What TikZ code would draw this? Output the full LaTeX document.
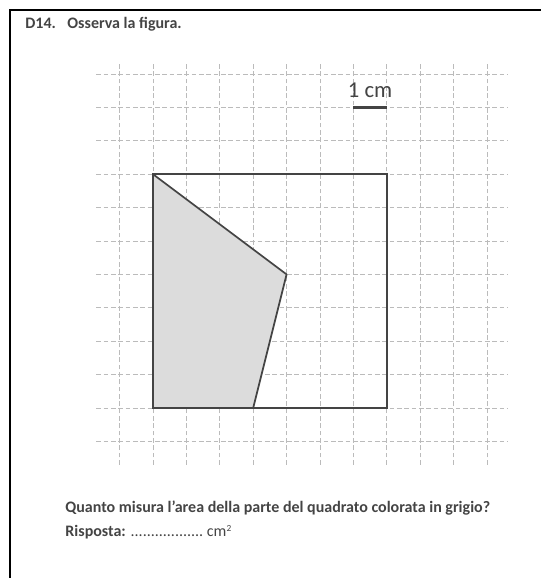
\documentclass[tikz,border=0pt]{standalone}
\usepackage{fontspec}
\setmainfont{Carlito}
\definecolor{ColorShade}{HTML}{DCDCDC}
\definecolor{ColorEdge}{HTML}{444444}
\definecolor{ColorGrid}{HTML}{BBBBBB}
\begin{document}
\begin{tikzpicture}[x=25.05pt, y=25.05pt]
        \useasboundingbox (-4.581,-5.090) rectangle (11.617,12.216);
        % page frame (only top and left edge visible)
        \draw[line width=1.6pt] (-4.281,-5.2) -- (-4.281,11.916) -- (11.8,11.916);
        % dashed grid
        \draw[ColorGrid, line width=0.6pt, dash pattern=on 3.5pt off 2pt, step=1] (-1.7,-1.7) grid (10.6,10.3);
        % shaded part and square
        \coordinate (SW) at (0,0);
        \coordinate (SE) at (7,0);
        \coordinate (NE) at (7,7);
        \coordinate (NW) at (0,7);
        \coordinate (P) at (4,4);
        \coordinate (Q) at (3,0);
        \fill[ColorShade] (NW) -- (P) -- (Q) -- (SW) -- cycle;
        \draw[ColorEdge, line width=1.3pt, line join=round] (NW) -- (P) -- (Q);
        \draw[ColorEdge, line width=1.3pt] (SW) rectangle (NE);
        % scale bar
        \coordinate (barL) at (6,9);
        \coordinate (barR) at (7,9);
        \draw[ColorEdge, line width=2pt] (barL) -- (barR);
        \node[font=\fontsize{17}{19}\selectfont, text=ColorEdge, anchor=base] (unit) at (6.5,9.31) {1 cm};
        % texts
        \node[font=\fontsize{12}{14}\selectfont\bfseries, text=ColorEdge, anchor=base west, inner sep=0pt] (num) at (-3.83,11.35) {D14.};
        \node[font=\fontsize{12}{14}\selectfont\bfseries, text=ColorEdge, anchor=base west, inner sep=0pt] (title) at (-2.57,11.35) {Osserva la figura.};
        \node[font=\fontsize{12}{14}\selectfont\bfseries, text=ColorEdge, anchor=base west, inner sep=0pt] (question) at (-2.63,-3.14) {Quanto misura l’area della parte del quadrato colorata in grigio?};
        \node[font=\fontsize{12}{14}\selectfont, text=ColorEdge, anchor=base west, inner sep=0pt] (answer) at (-2.63,-3.86) {\textbf{Risposta:} ..................\ cm\raisebox{0.75ex}{\fontsize{7}{8}\selectfont 2}};
    \end{tikzpicture}
\end{document}
